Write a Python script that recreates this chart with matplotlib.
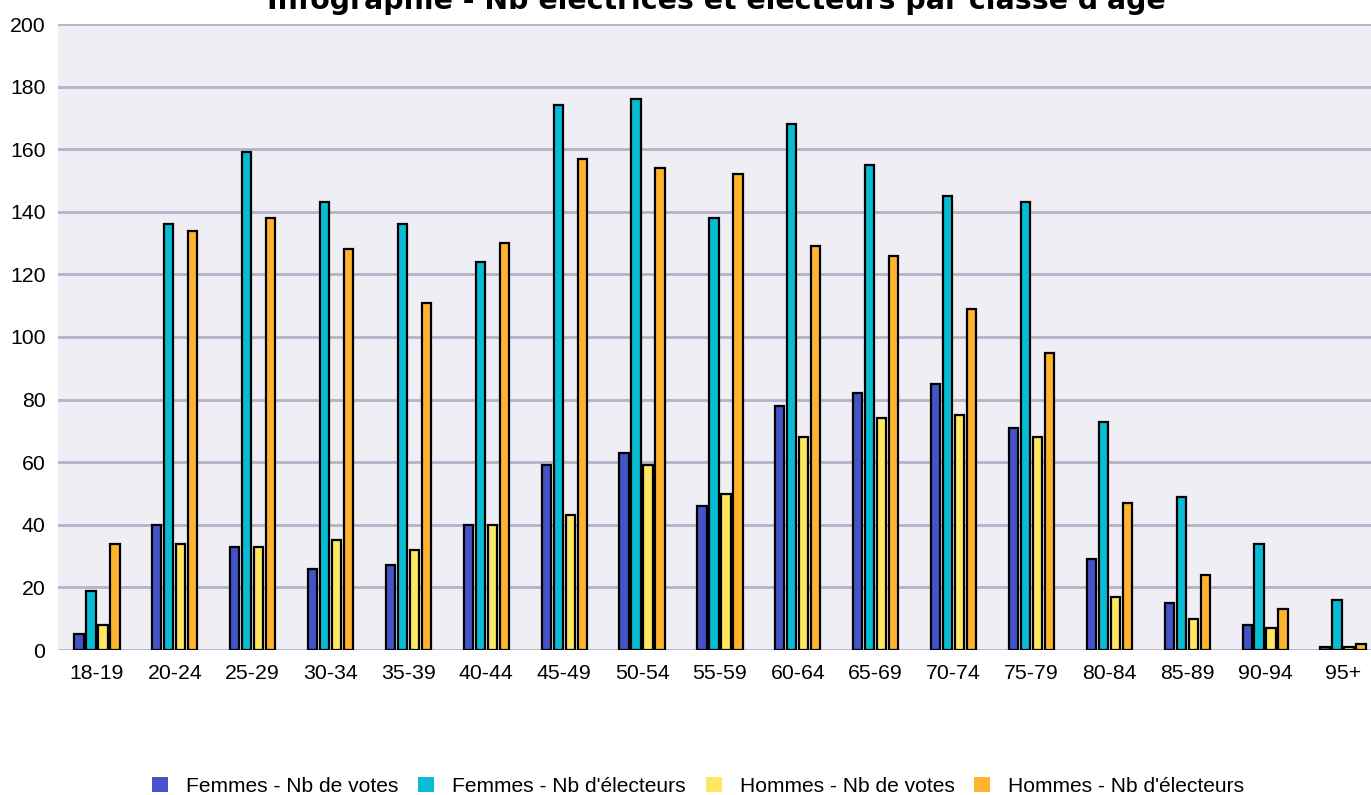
import matplotlib
matplotlib.use("Agg")
import matplotlib.pyplot as plt
import numpy as np

categories = ["18-19", "20-24", "25-29", "30-34", "35-39", "40-44", "45-49", "50-54",
              "55-59", "60-64", "65-69", "70-74", "75-79", "80-84", "85-89", "90-94", "95+"]
femmes_votes = [5, 40, 33, 26, 27, 40, 59, 63, 46, 78, 82, 85, 71, 29, 15, 8, 1]
femmes_electeurs = [19, 136, 159, 143, 136, 124, 174, 176, 138, 168, 155, 145, 143, 73, 49, 34, 16]
hommes_votes = [8, 34, 33, 35, 32, 40, 43, 59, 50, 68, 74, 75, 68, 17, 10, 7, 1]
hommes_electeurs = [34, 134, 138, 128, 111, 130, 157, 154, 152, 129, 126, 109, 95, 47, 24, 13, 2]

series = [
    ("Femmes - Nb de votes", femmes_votes, "#4453C8"),
    ("Femmes - Nb d'électeurs", femmes_electeurs, "#08BCD4"),
    ("Hommes - Nb de votes", hommes_votes, "#FFE761"),
    ("Hommes - Nb d'électeurs", hommes_electeurs, "#FFB32E"),
]

W, H = 1371, 795
fig = plt.figure(figsize=(W / 100, H / 100), dpi=100)
left, right, top, bottom = 58, 1371, 24, 650
ax = fig.add_axes([left / W, 1 - bottom / H, (right - left) / W, (bottom - top) / H])
ax.set_facecolor("#EFEEF4")

x = np.arange(len(categories))
pitch = 0.154
bw = 0.118
handles = []
for i, (name, vals, col) in enumerate(series):
    b = ax.bar(x + (i - 1.5) * pitch, vals, width=bw, color=col, edgecolor="black",
               linewidth=1.6, label=name, zorder=3)
    handles.append(b)

ax.set_xlim(-0.5, 16.36)
ax.set_ylim(0, 200)
ax.set_yticks(range(0, 201, 20))
ax.set_xticks(x)
ax.set_xticklabels(categories)
ax.yaxis.grid(True, color="#B3B3CA", linewidth=2, zorder=0)
ax.set_axisbelow(True)
for s in ax.spines.values():
    s.set_visible(False)
ax.tick_params(axis="both", length=0, labelsize=15.3, colors="black")
ax.tick_params(axis="x", pad=10)
ax.tick_params(axis="y", pad=9)
for lab in ax.get_xticklabels() + ax.get_yticklabels():
    lab.set_family("Liberation Sans")

fig.text(716 / W, 1 - 9 / H, "Infographie - Nb électrices et électeurs par classe d'âge",
         ha="center", va="baseline", fontsize=20.4, fontweight="bold", family="DejaVu Sans")

fs = 15.1
fpx = fs * 100 / 72
leg = fig.legend(handles=handles, loc="center", bbox_to_anchor=(698 / W, 1 - 786 / H), ncol=4,
                 frameon=False, prop={"family": "Liberation Sans", "size": fs},
                 handlelength=16 / fpx, handleheight=15 / fpx, handletextpad=18 / fpx,
                 columnspacing=20 / fpx, borderpad=0.1)
for h in leg.legend_handles:
    h.set_edgecolor("none")

fig.savefig("out.png", dpi=100)
